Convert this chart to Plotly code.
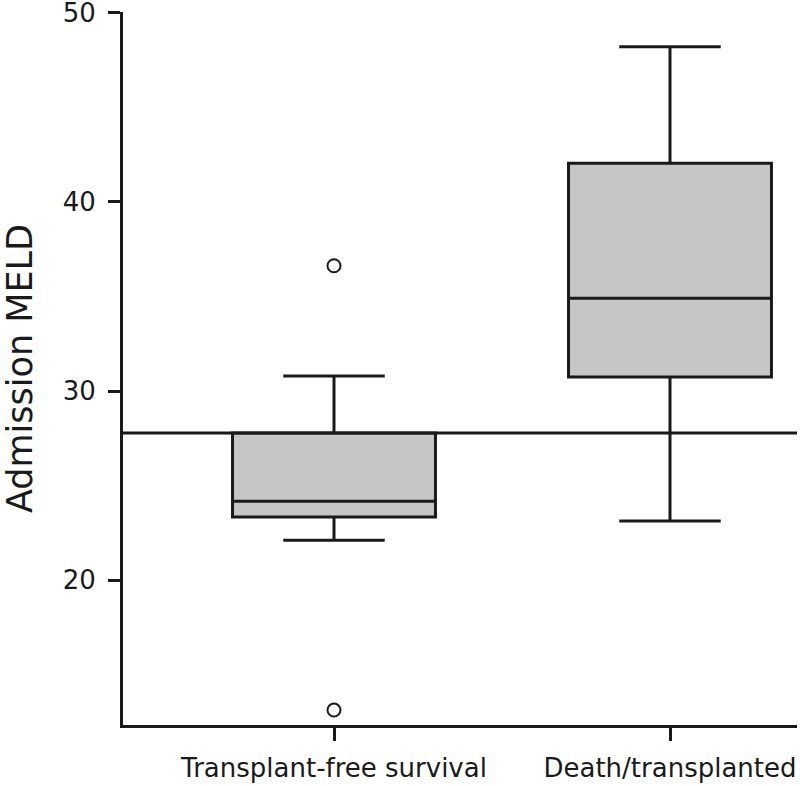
import plotly.graph_objects as go

categories = ["Transplant-free survival", "Death/transplanted"]
positions = [1, 2]
q1 = [23.34, 30.74]
median = [24.17, 34.90]
q3 = [27.78, 42.04]
lower = [22.11, 23.13]
upper = [30.80, 48.20]
outlier_x = [1, 1]
outlier_y = [36.62, 13.14]
ref_value = 27.78
y_ticks = [20, 30, 40, 50]

LINE = "#1a1a1a"
FILL = "#c6c6c6"
FONT = "DejaVu Sans, Liberation Sans, Arial, sans-serif"

fig = go.Figure()
for i in range(len(categories)):
    fig.add_trace(go.Box(
        x=[positions[i]], q1=[q1[i]], median=[median[i]], q3=[q3[i]],
        lowerfence=[lower[i]], upperfence=[upper[i]],
        width=0.604, whiskerwidth=0.5,
        fillcolor=FILL, line=dict(color=LINE, width=3),
        boxpoints=False, showlegend=False, hoverinfo="skip",
    ))

fig.add_trace(go.Scatter(
    x=outlier_x, y=outlier_y, mode="markers",
    marker=dict(symbol="circle-open", size=13, color=LINE, line=dict(width=2, color=LINE)),
    showlegend=False,
))

fig.add_shape(type="line", xref="paper", x0=0, x1=1, yref="y", y0=ref_value, y1=ref_value,
              line=dict(color=LINE, width=3), layer="above")

fig.update_layout(
    template="none",
    width=800, height=786,
    margin=dict(l=123, r=3, t=11.5, b=61, pad=0),
    paper_bgcolor="white", plot_bgcolor="white",
    font=dict(family=FONT, size=26, color="#1a1a1a"),
    xaxis=dict(
        range=[0.372, 2.378], tickvals=positions, ticktext=categories,
        showgrid=False, zeroline=False, showline=True, linecolor=LINE, linewidth=3,
        ticks="outside", ticklen=13, tickwidth=3, tickcolor=LINE,
        tickfont=dict(size=26), automargin=False, ticklabelstandoff=5,
        ticklabeloverflow="allow",
    ),
    yaxis=dict(
        range=[12.35, 50.03], tickvals=y_ticks,
        showgrid=False, zeroline=False, showline=True, linecolor=LINE, linewidth=3,
        ticks="outside", ticklen=12, tickwidth=3, tickcolor=LINE,
        tickfont=dict(size=26), automargin=False, ticklabelstandoff=7,
        ticklabeloverflow="allow",
        title=dict(text="Admission MELD", font=dict(size=35), standoff=32),
    ),
)

fig.write_html(
    "out.html",
    config={"displayModeBar": False},
    post_script="document.body.style.margin='0';document.body.style.overflow='hidden';",
)
